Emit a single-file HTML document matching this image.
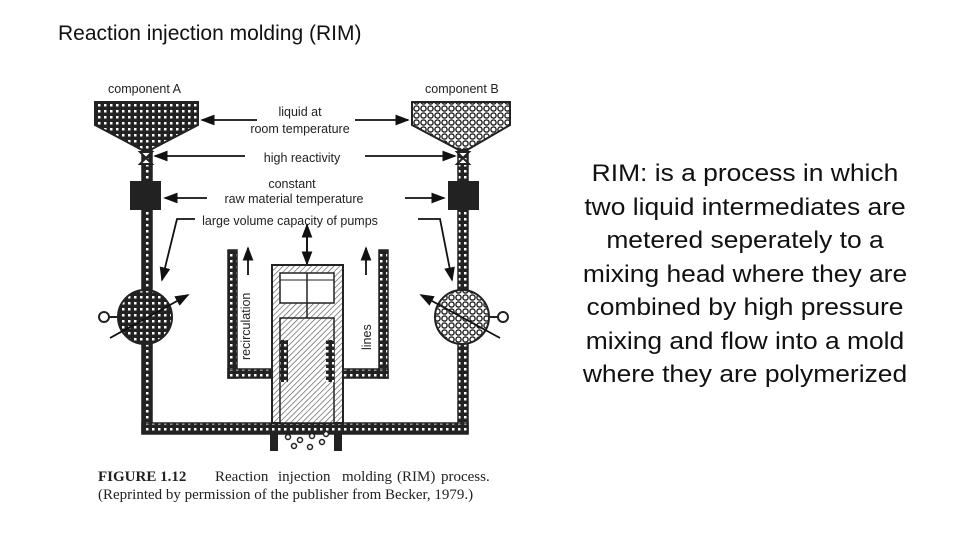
<!DOCTYPE html>
<html><head><style>
body{margin:0;width:960px;height:540px;background:#fff;overflow:hidden;position:relative;font-family:"Liberation Sans",sans-serif}
.t{position:absolute;left:58px;top:22px;font-size:21px;color:#111}
.r{position:absolute;left:545px;top:157px;width:400px;text-align:center;font-size:24px;line-height:33.5px;color:#111;transform:scaleX(1.1);transform-origin:200px 0;white-space:nowrap}
</style></head><body>
<div class="t">Reaction injection molding (RIM)</div>
<div class="r">RIM: is a process in which<br>two liquid intermediates are<br>metered seperately to a<br>mixing head where they are<br>combined by high pressure<br>mixing and flow into a mold<br>where they are polymerized</div>
<svg width="960" height="540" style="position:absolute;left:0;top:0">
<defs>
<pattern id="sq" width="6" height="6" patternUnits="userSpaceOnUse"><rect width="6" height="6" fill="#222"/><rect x="2" y="2" width="2.5" height="2.5" fill="#fff"/></pattern>
<pattern id="ci" width="7" height="7" patternUnits="userSpaceOnUse"><rect width="7" height="7" fill="#fff"/><circle cx="3.5" cy="3.5" r="2.6" fill="none" stroke="#222" stroke-width="1.4"/></pattern>
<pattern id="ha" width="4" height="4" patternUnits="userSpaceOnUse" patternTransform="rotate(45)"><rect width="4" height="4" fill="#fff"/><line x1="0" y1="0" x2="0" y2="4" stroke="#555" stroke-width="1.3"/></pattern>
<marker id="ar" markerWidth="8" markerHeight="8" refX="7" refY="4" orient="auto"><path d="M0,1 L8,4 L0,7z" fill="#111"/></marker>
</defs>
<g font-family="Liberation Sans,sans-serif" font-size="12.5" fill="#222">
<text x="108" y="93">component A</text><text x="425" y="93">component B</text>
<text x="300" y="116" text-anchor="middle">liquid at</text>
<text x="300" y="133" text-anchor="middle">room temperature</text>
<text x="302" y="162" text-anchor="middle">high reactivity</text>
<text x="292" y="188" text-anchor="middle">constant</text>
<text x="294" y="203" text-anchor="middle">raw material temperature</text>
<text x="290" y="225" text-anchor="middle">large volume capacity of pumps</text>
<text transform="translate(250,360) rotate(-90)">recirculation</text>
<text transform="translate(371,350) rotate(-90)">lines</text>
</g>
<path d="M95,102 L198,102 L198,125 L150,150 L142,150 L95,125z" fill="url(#sq)" stroke="#222" stroke-width="2"/>
<path d="M412,102 L510,102 L510,125 L467,150 L459,150 L412,125z" fill="url(#ci)" stroke="#222" stroke-width="2"/>
<g fill="url(#sq)" stroke="#222" stroke-width="1.5">
<rect x="142" y="150" width="10" height="283"/>
<rect x="458" y="150" width="10" height="283"/>
<rect x="142" y="423" width="326" height="11"/>
<rect x="228" y="250" width="9" height="128"/>
<rect x="228" y="369" width="57" height="9"/>
<rect x="379" y="250" width="9" height="128"/>
<rect x="325" y="369" width="63" height="9"/>
</g>
<path d="M140,152 L152,152 L140,164 L152,164z M457,152 L469,152 L457,164 L469,164z" fill="#fff" stroke="#222" stroke-width="2"/>
<rect x="130" y="181" width="31" height="29" fill="#222"/>
<rect x="448" y="181" width="31" height="29" fill="#222"/>
<circle cx="145" cy="317" r="27" fill="url(#sq)" stroke="#222" stroke-width="2"/>
<circle cx="462" cy="317" r="27" fill="url(#ci)" stroke="#222" stroke-width="2"/>
<circle cx="104" cy="317" r="5" fill="#fff" stroke="#222" stroke-width="2"/><line x1="109" y1="317" x2="118" y2="317" stroke="#222" stroke-width="2"/>
<circle cx="503" cy="317" r="5" fill="#fff" stroke="#222" stroke-width="2"/><line x1="489" y1="317" x2="498" y2="317" stroke="#222" stroke-width="2"/>
<g stroke="#111" stroke-width="1.8" fill="none">
<line x1="110" y1="338" x2="188" y2="295" marker-end="url(#ar)"/>
<line x1="500" y1="338" x2="421" y2="295" marker-end="url(#ar)"/>
<line x1="257" y1="120" x2="202" y2="120" marker-end="url(#ar)"/>
<line x1="355" y1="120" x2="408" y2="120" marker-end="url(#ar)"/>
<line x1="245" y1="156" x2="155" y2="156" marker-end="url(#ar)"/>
<line x1="365" y1="156" x2="455" y2="156" marker-end="url(#ar)"/>
<line x1="207" y1="198" x2="165" y2="198" marker-end="url(#ar)"/>
<line x1="405" y1="198" x2="444" y2="198" marker-end="url(#ar)"/>
<polyline points="195,219 177,219 162,280" marker-end="url(#ar)"/>
<polyline points="418,219 440,219 452,280" marker-end="url(#ar)"/>
<line x1="248" y1="275" x2="248" y2="248" marker-end="url(#ar)"/>
<line x1="366" y1="275" x2="366" y2="248" marker-end="url(#ar)"/>
<line x1="307" y1="255" x2="307" y2="225" marker-end="url(#ar)"/>
<line x1="307" y1="235" x2="307" y2="264" marker-end="url(#ar)"/>
</g>
<rect x="272" y="265" width="71" height="158" fill="url(#ha)" stroke="#222" stroke-width="2"/>
<rect x="280" y="273" width="54" height="30" fill="#fff" stroke="#222" stroke-width="1.5"/>
<line x1="307" y1="273" x2="307" y2="318" stroke="#222" stroke-width="1.5"/><line x1="280" y1="280" x2="334" y2="280" stroke="#222"/>
<rect x="280" y="318" width="54" height="105" fill="url(#ha)" stroke="#222" stroke-width="1.5"/>
<rect x="280" y="340" width="8" height="42" fill="url(#sq)"/><rect x="326" y="340" width="8" height="42" fill="url(#sq)"/>
<rect x="270" y="433" width="8" height="18" fill="#222"/><rect x="334" y="433" width="8" height="18" fill="#222"/>
<g fill="#fff" stroke="#222" stroke-width="1.5"><circle cx="288" cy="437" r="2.5"/><circle cx="300" cy="440" r="2.5"/><circle cx="312" cy="436" r="2.5"/><circle cx="322" cy="442" r="2.5"/><circle cx="294" cy="446" r="2.5"/><circle cx="310" cy="447" r="2.5"/><circle cx="326" cy="434" r="2.5"/></g>
<g font-family="Liberation Serif,serif" font-size="15" fill="#222">
<text x="98" y="481" font-weight="bold">FIGURE 1.12</text>
<text x="215" y="481">Reaction</text>
<text x="278" y="481">injection</text>
<text x="342" y="481">molding</text>
<text x="397" y="481">(RIM)</text>
<text x="441" y="481">process.</text>
<text x="98" y="499">(Reprinted by permission of the publisher from Becker, 1979.)</text>
</g>
</svg>
</body></html>
